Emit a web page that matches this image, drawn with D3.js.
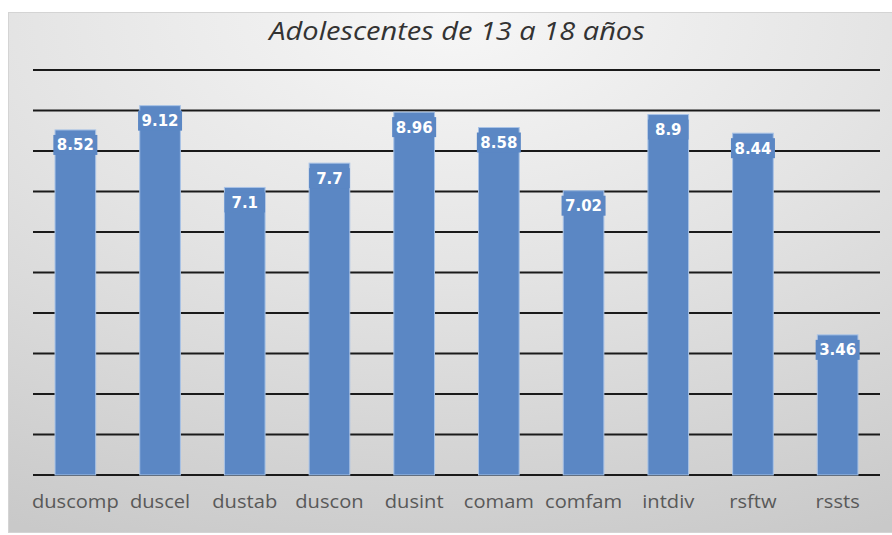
<!DOCTYPE html>
<html>
<head>
<meta charset="utf-8">
<script src="https://cdn.jsdelivr.net/npm/d3@7"></script>
<style>
  body { margin: 0; background: #fff; }
  svg { display: block; }
</style>
</head>
<body>
<div class="chart"></div>
<script>
var categories = ["duscomp", "duscel", "dustab", "duscon", "dusint", "comam", "comfam", "intdiv", "rsftw", "rssts"];
var values = [8.52, 9.12, 7.1, 7.7, 8.96, 8.58, 7.02, 8.9, 8.44, 3.46];
var valueLabels = ["8.52", "9.12", "7.1", "7.7", "8.96", "8.58", "7.02", "8.9", "8.44", "3.46"];
var gridTicks = [0, 1, 2, 3, 4, 5, 6, 7, 8, 9, 10];
var title = "Adolescentes de 13 a 18 años";

var width = 892, height = 535;
var svg = d3.select(".chart").append("svg")
  .attr("width", width)
  .attr("height", height);

// panel background
var defs = svg.append("defs");
var grad = defs.append("radialGradient")
  .attr("id", "bg")
  .attr("cx", "50%").attr("cy", "0%")
  .attr("r", "110%");
grad.append("stop").attr("offset", "0%").attr("stop-color", "#f7f7f7");
grad.append("stop").attr("offset", "45%").attr("stop-color", "#e4e4e4");
grad.append("stop").attr("offset", "100%").attr("stop-color", "#c9c9c9");

svg.append("rect")
  .attr("x", 8.5).attr("y", 12.5)
  .attr("width", width - 8).attr("height", 520)
  .attr("fill", "url(#bg)")
  .attr("stroke", "#d4d4d4");

var x = d3.scaleBand()
  .domain(categories)
  .range([33, 880])
  .paddingInner(0.52)
  .paddingOuter(0.26);

var y = d3.scaleLinear()
  .domain([0, 10])
  .range([475, 70]);

// gridlines
svg.append("g")
  .selectAll("line")
  .data(gridTicks)
  .enter().append("line")
  .attr("x1", 33)
  .attr("x2", 880)
  .attr("y1", function(d) { return y(d); })
  .attr("y2", function(d) { return y(d); })
  .attr("stroke", "#1a1a1a")
  .attr("stroke-width", 2);

// bars
svg.append("g")
  .selectAll("rect")
  .data(values)
  .enter().append("rect")
  .attr("x", function(d, i) { return x(categories[i]); })
  .attr("y", function(d) { return y(d); })
  .attr("width", x.bandwidth())
  .attr("height", function(d) { return y(0) - y(d); })
  .attr("fill", "#5b87c4")
  .attr("stroke", "#a9c3e6")
  .attr("stroke-width", 1);

// value label boxes + text
var lab = svg.append("g")
  .selectAll("g")
  .data(values)
  .enter().append("g")
  .attr("transform", function(d, i) {
    return "translate(" + (x(categories[i]) + x.bandwidth() / 2) + "," + (y(d) + 15) + ")";
  });

lab.append("rect")
  .attr("x", function(d, i) { return -Math.max(x.bandwidth() / 2, valueLabels[i].length * 5 + 2); })
  .attr("y", -10)
  .attr("width", function(d, i) { return 2 * Math.max(x.bandwidth() / 2, valueLabels[i].length * 5 + 2); })
  .attr("height", 20)
  .attr("fill", "#5b87c4");

lab.append("text")
  .attr("text-anchor", "middle")
  .attr("dy", "0.36em")
  .attr("fill", "#ffffff")
  .style("font-family", "'DejaVu Sans', sans-serif")
  .style("font-weight", "bold")
  .style("font-size", "15px")
  .text(function(d, i) { return valueLabels[i]; });

// category axis labels (slightly stretched like the original)
svg.append("g")
  .selectAll("text")
  .data(categories)
  .enter().append("text")
  .attr("transform", function(d) {
    return "translate(" + (x(d) + x.bandwidth() / 2) + ",508) scale(1.15,1)";
  })
  .attr("text-anchor", "middle")
  .attr("fill", "#595959")
  .style("font-family", "'Open Sans', sans-serif")
  .style("font-size", "17.5px")
  .text(function(d) { return d; });

// title
svg.append("text")
  .attr("transform", "translate(457,40) scale(1.16,1)")
  .attr("text-anchor", "middle")
  .attr("fill", "#333333")
  .style("font-family", "'Open Sans', sans-serif")
  .style("font-style", "italic")
  .style("font-weight", "500")
  .style("font-size", "25px")
  .text(title);
</script>
</body>
</html>
